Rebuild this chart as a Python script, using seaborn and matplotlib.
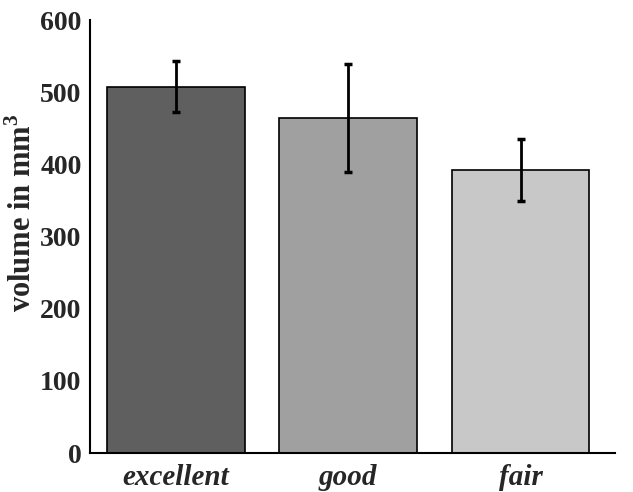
import matplotlib
matplotlib.use('Agg')
import matplotlib.pyplot as plt
import seaborn as sns

# data
categories = ['excellent', 'good', 'fair']
volumes = [508, 464, 392]
errors = [35, 75, 43]
bar_colors = ['#5f5f5f', '#a0a0a0', '#c8c8c8']

sns.set_style('white')
plt.rcParams['font.family'] = ['Liberation Serif', 'DejaVu Serif']
plt.rcParams['mathtext.fontset'] = 'custom'
plt.rcParams['mathtext.rm'] = 'Liberation Serif:bold'
plt.rcParams['mathtext.bf'] = 'Liberation Serif:bold'

fig = plt.figure(figsize=(6.33, 4.92), dpi=100)
ax = fig.add_axes([0.142, 0.079, 0.83, 0.880])

sns.barplot(x=categories, y=volumes, hue=categories, palette=bar_colors,
            edgecolor='black', linewidth=1.2, width=0.8, legend=False, ax=ax)
ax.errorbar(range(len(categories)), volumes, yerr=errors, fmt='none',
            ecolor='black', elinewidth=2.0, capsize=3, capthick=2.5)

ax.set_ylim(0, 600)
ax.set_xlim(-0.5, 2.55)
ax.set_yticks(range(0, 601, 100))
ax.tick_params(axis='y', length=0, pad=6, labelsize=20)
ax.tick_params(axis='x', length=0, pad=8, labelsize=21)
for lbl in ax.get_yticklabels():
    lbl.set_fontweight('bold')
for lbl in ax.get_xticklabels():
    lbl.set_fontweight('bold')
    lbl.set_fontstyle('italic')

ax.set_ylabel(r'volume in mm$^\mathbf{3}$', fontsize=22, fontweight='bold')
ax.yaxis.set_label_coords(-0.098, 0.555)

sns.despine(ax=ax)
for side in ['left', 'bottom']:
    ax.spines[side].set_color('black')
    ax.spines[side].set_linewidth(1.5)

fig.savefig('out.png', dpi=100)
